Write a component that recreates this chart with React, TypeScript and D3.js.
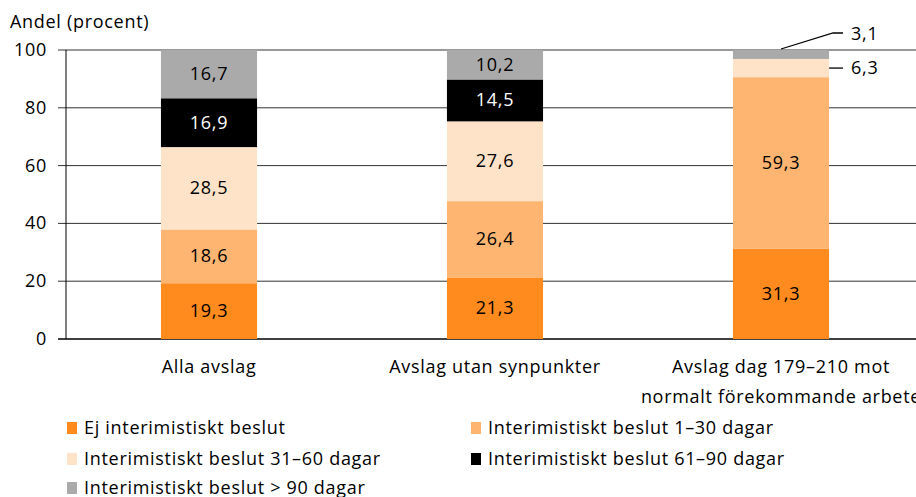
import React from "react";
import * as d3 from "d3";

const categories = ["Alla avslag", "Avslag utan synpunkter", "Avslag dag 179–210 mot|normalt förekommande arbete"];
const seriesNames = [
  "Ej interimistiskt beslut",
  "Interimistiskt beslut 1–30 dagar",
  "Interimistiskt beslut 31–60 dagar",
  "Interimistiskt beslut 61–90 dagar",
  "Interimistiskt beslut > 90 dagar",
];
const ejInterim = [19.3, 21.3, 31.3];
const interim1_30 = [18.6, 26.4, 59.3];
const interim31_60 = [28.5, 27.6, 6.3];
const interim61_90 = [16.9, 14.5, 0];
const interim90 = [16.7, 10.2, 3.1];
const yTicks = [0, 20, 40, 60, 80, 100];
const colors = ["#FF8A1E", "#FDB571", "#FEE3C9", "#000000", "#AAAAAA"];

const FONT = "'Open Sans', 'Noto Sans', sans-serif";
const FS = 18;
const LS = 0.7;

export default function App() {
  const W = 916, H = 497;
  const left = 66, top = 50, bottom = 339;
  const x = d3.scaleBand<string>().domain(categories).range([left, left + 3 * 286]).paddingInner(0.664).paddingOuter(0.332);
  const y = d3.scaleLinear().domain([0, 100]).range([bottom, top]);
  const series = [ejInterim, interim1_30, interim31_60, interim61_90, interim90];
  const data = categories.map((c, i) => {
    const o: any = { cat: c };
    seriesNames.forEach((s, k) => (o[s] = series[k][i]));
    return o;
  });
  const stack = d3.stack<any>().keys(seriesNames)(data);
  const fmt = (v: number) => v.toFixed(1).replace(".", ",");
  const bw = x.bandwidth();

  const legend = [
    { i: 0, x: 67, y: 434 },
    { i: 1, x: 471, y: 434 },
    { i: 2, x: 67, y: 465 },
    { i: 3, x: 471, y: 465 },
    { i: 4, x: 67, y: 494 },
  ];

  return (
    <svg width={W} height={H} style={{ position: "absolute", left: 0, top: 0 }} fontFamily={FONT} letterSpacing={LS}>
      <text x={10} y={28} fontSize={FS} fill="#000">Andel (procent)</text>
      {yTicks.map((t) => (
        <g key={t}>
          <line x1={58} x2={W} y1={y(t)} y2={y(t)} stroke={t === 0 ? "#000" : "#333"} strokeWidth={t === 0 ? 1.3 : 1} />
          <text x={47} y={y(t) + 6} textAnchor="end" fontSize={FS}>{t}</text>
        </g>
      ))}
      <line x1={left} x2={left} y1={top} y2={bottom} stroke="#000" strokeWidth={1} />
      {stack.map((layer, k) => (
        <g key={k}>
          {layer.map((d, i) => {
            const h = y(d[0]) - y(d[1]);
            if (h <= 0) return null;
            const cat = categories[i];
            return (
              <g key={i}>
                <rect x={x(cat)} y={y(d[1])} width={bw} height={h} fill={colors[k]} />
                {h > 25 && (
                  <text x={x(cat)! + bw / 2} y={(y(d[0]) + y(d[1])) / 2 + 6} textAnchor="middle" fontSize={FS} fill={k === 3 ? "#fff" : "#000"}>
                    {fmt(series[k][i])}
                  </text>
                )}
              </g>
            );
          })}
        </g>
      ))}
      {(() => {
        const cat = categories[2];
        const x0 = x(cat)!;
        const topSeg = stack[4][2];
        const midSeg = stack[2][2];
        const ym = (y(midSeg[0]) + y(midSeg[1])) / 2;
        return (
          <g>
            <polyline points={`${x0 + bw / 2},${y(topSeg[1]) - 1} ${x0 + bw + 4},${33} ${x0 + bw + 14},${33}`} fill="none" stroke="#000" strokeWidth={1.3} />
            <text x={x0 + bw + 22} y={40} fontSize={FS}>{fmt(interim90[2])}</text>
            <line x1={x0 + bw} x2={x0 + bw + 14} y1={ym} y2={ym} stroke="#000" strokeWidth={1.3} />
            <text x={x0 + bw + 22} y={ym + 6} fontSize={FS}>{fmt(interim31_60[2])}</text>
          </g>
        );
      })()}
      {categories.map((c) => {
        const lines = c.split("|");
        return (
          <text key={c} textAnchor="middle" fontSize={FS}>
            {lines.map((l, j) => (
              <tspan key={j} x={x(c)! + bw / 2} y={373 + j * 30}>{l}</tspan>
            ))}
          </text>
        );
      })}
      {legend.map((l) => (
        <g key={l.i}>
          <rect x={l.x} y={l.y - 12} width={10} height={12} fill={colors[l.i]} />
          <text x={l.x + 17} y={l.y} fontSize={FS}>{seriesNames[l.i]}</text>
        </g>
      ))}
    </svg>
  );
}
